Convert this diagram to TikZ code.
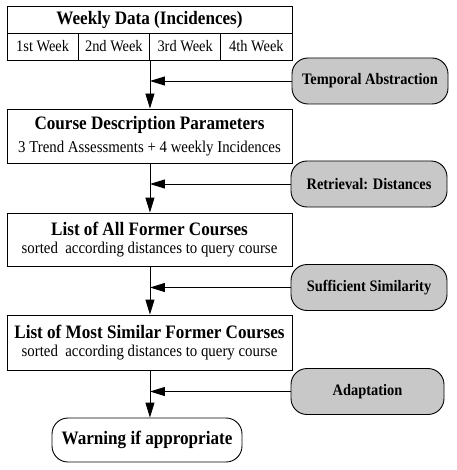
\documentclass[tikz,border=0pt]{standalone}
\usepackage{fontspec}
\setmainfont{Liberation Serif}[FakeStretch=0.9]
\usetikzlibrary{arrows.meta}
\definecolor{boxgray}{RGB}{200,200,200}
\tikzset{
  mainbox/.style={draw, line width=0.9pt, fill=white, minimum width=285pt, inner sep=0pt, align=center},
  cell/.style={draw, line width=0.9pt, minimum width=71.25pt, minimum height=27pt, inner sep=0pt, font=\fontsize{16}{18}\selectfont},
  procbox/.style={draw, line width=0.9pt, fill=boxgray, rounded corners=16pt, minimum width=156pt, minimum height=46pt, inner sep=0pt, font=\bfseries\fontsize{16}{18}\selectfont},
  endbox/.style={draw, line width=0.9pt, fill=white, rounded corners=16pt, minimum width=190pt, minimum height=44pt, inner sep=0pt, font=\bfseries\fontsize{19}{21}\selectfont},
  flow/.style={line width=0.9pt, -{Triangle[length=15pt,width=9pt]}},
  titlef/.style={font=\bfseries\fontsize{19}{21}\selectfont},
}
\newcommand{\ttl}[1]{{\bfseries\fontsize{19}{21}\selectfont #1}}
\newcommand{\sub}[1]{{\fontsize{16.5}{18}\selectfont #1}}
\begin{document}
\begin{tikzpicture}[x=1pt,y=-1pt]
\useasboundingbox (0,0) rectangle (456,470);
% box 1
\node[mainbox, minimum height=27pt, titlef] (b1) at (149.5,19.5) {Weekly Data (Incidences)};
\node[cell] (w1) at (42.625,46.5) {1st Week};
\node[cell] (w2) at (113.875,46.5) {2nd Week};
\node[cell] (w3) at (185.125,46.5) {3rd Week};
\node[cell] (w4) at (256.375,46.5) {4th Week};
% box 2
\node[mainbox, minimum height=54pt] (b2) at (149.5,136) {\ttl{Course Description Parameters}\\[6pt]\sub{3 Trend Assessments + 4 weekly Incidences}};
% box 3
\node[mainbox, minimum height=53pt] (b3) at (149.5,239.5) {\ttl{List of All Former Courses}\\[6pt]\sub{sorted\ \ according distances to query course}};
% box 4
\node[mainbox, minimum height=55pt] (b4) at (149.5,342.5) {\ttl{List of Most Similar Former Courses}\\[6pt]\sub{sorted\ \ according distances to query course}};
% end
\node[endbox] (b5) at (147,440) {Warning if appropriate};
% process boxes
\node[procbox] (p1) at (370,81) {Temporal Abstraction};
\node[procbox] (p2) at (369,184) {Retrieval: Distances};
\node[procbox] (p3) at (369,287.5) {Sufficient Similarity};
\node[procbox, minimum width=153pt] (p4) at (367.5,391.5) {Adaptation};
% vertical flows
\draw[flow] (w2.south east) -- (b2.north -| w2.south east);
\draw[flow] (b2.south -| w2.south east) -- (b3.north -| w2.south east);
\draw[flow] (b3.south -| w2.south east) -- (b4.north -| w2.south east);
\draw[flow] (b4.south -| w2.south east) -- (b5.north -| w2.south east);
% horizontal flows
\draw[flow] (p1.west) -- (p1.west -| w2.south east);
\draw[flow] (p2.west) -- (p2.west -| w2.south east);
\draw[flow] (p3.west) -- (p3.west -| w2.south east);
\draw[flow] (p4.west) -- (p4.west -| w2.south east);
\end{tikzpicture}
\end{document}
